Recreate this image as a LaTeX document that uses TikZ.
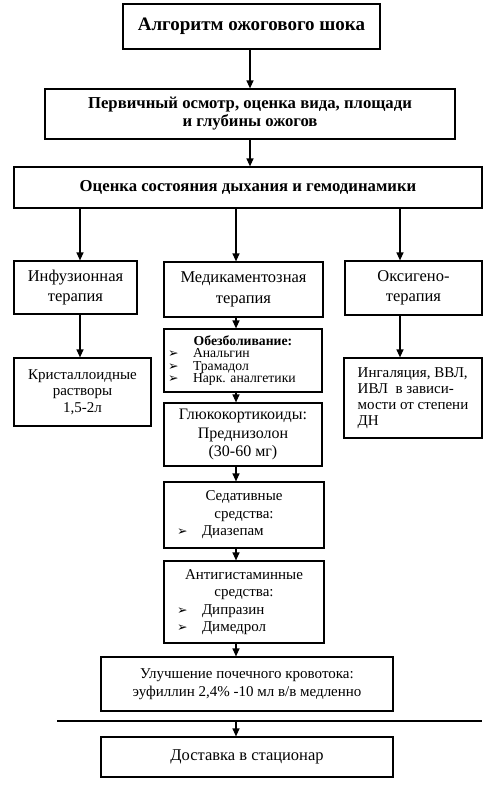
\documentclass[tikz,border=0pt]{standalone}
\usepackage{fontspec}
\setmainfont{Liberation Serif}
\newfontfamily\dejavu{DejaVu Sans}
\usetikzlibrary{arrows.meta}
\frenchspacing
\newcommand{\itm}[2]{\par\noindent\hspace*{#1pt}\makebox[25pt][l]{\dejavu\fontsize{12.5}{12}\selectfont ➢}#2}

\begin{document}
\begin{tikzpicture}[x=1pt,y=-1pt,
  box/.style={draw,line width=1.2pt,inner sep=2pt,align=center,font=\fontsize{15}{18}\selectfont},
  arr/.style={line width=1.2pt,-{Triangle[length=8pt,width=7pt]}}]
\useasboundingbox (0,0) rectangle (500,795);

\node[box,minimum width=257,minimum height=45,font=\fontsize{19}{21}\selectfont\bfseries] (title) at (251.5,26.5) {Алгоритм ожогового шока};
\node[box,minimum width=410,minimum height=50,font=\fontsize{16.7}{18}\selectfont\bfseries] (prim) at (250,114) {Первичный осмотр, оценка вида, площади\\ и глубины ожогов};
\node[box,minimum width=468,minimum height=41,font=\fontsize{16.7}{18}\selectfont\bfseries] (assess) at (248,187.5) {Оценка состояния дыхания и гемодинамики};
\draw[arr] (title.south -| 250,0) -- (prim.north -| 250,0);
\draw[arr] (prim.south -| 250,0) -- (assess.north -| 250,0);

% three columns
\node[box,minimum width=123,minimum height=53,font=\fontsize{16.5}{20.5}\selectfont] (inf) at (75.5,287.5) {Инфузионная\\ терапия};
\node[box,minimum width=159,minimum height=55,font=\fontsize{16.5}{20.5}\selectfont] (med) at (243.5,289.5) {Медикаментозная\\ терапия};
\node[box,minimum width=137,minimum height=54,font=\fontsize{16.5}{20.5}\selectfont] (oxy) at (413.5,288) {Оксигено-\\ терапия};
\draw[arr] (assess.south -| 80,0) -- (inf.north -| 80,0);
\draw[arr] (assess.south -| 236,0) -- (med.north -| 236,0);
\draw[arr] (assess.south -| 400,0) -- (oxy.north -| 400,0);

\node[box,minimum width=137,minimum height=68,font=\fontsize{15}{16.5}\selectfont] (cryst) at (82.5,392) {Кристаллоидные\\ растворы\\ 1,5-2л};
\node[box,align=left,minimum width=138,minimum height=80,font=\fontsize{15}{16}\selectfont] (inh) at (413,398) {Ингаляция, ВВЛ,\\ ИВЛ\ \ в зависи-\\ мости от степени\\ ДН};
\draw[arr] (inf.south -| 80,0) -- (cryst.north -| 80,0);
\draw[arr] (oxy.south -| 400,0) -- (inh.north -| 400,0);

% medication chain
\node[box,align=left,text width=154,minimum height=63,font=\fontsize{13.7}{12.5}\selectfont] (anal) at (243,360.5)
  {{\centering\textbf{Обезболивание:}\par}\itm{2}{Анальгин}\itm{2}{Трамадол}\itm{2}{Нарк. аналгетики}};
\node[box,minimum width=158,minimum height=63,font=\fontsize{16}{18.5}\selectfont] (gluc) at (243,434.5) {Глюкокортикоиды:\\ Преднизолон\\ (30-60 мг)};
\node[box,align=left,text width=156,minimum height=66,font=\fontsize{15}{17.5}\selectfont] (sed) at (244,515)
  {{\centering Седативные\\ средства:\par}\itm{11}{Диазепам}};
\node[box,align=left,text width=156,minimum height=82,font=\fontsize{15}{17.5}\selectfont] (anti) at (244,602)
  {{\centering Антигистаминные\\ средства:\par}\itm{11}{Дипразин}\itm{11}{Димедрол}};
\node[box,minimum width=292,minimum height=54] (kidney) at (247,684) {Улучшение почечного кровотока:\\ эуфиллин 2,4\% -10 мл в/в медленно};
\draw[arr] (med.south -| 236,0) -- (anal.north -| 236,0);
\draw[arr] (anal.south -| 236,0) -- (gluc.north -| 236,0);
\draw[arr] (gluc.south -| 236,0) -- (sed.north -| 236,0);
\draw[arr] (sed.south -| 236,0) -- (anti.north -| 236,0);
\draw[arr] (anti.south -| 236,0) -- (kidney.north -| 236,0);

% separator and transport
\coordinate (sepL) at (57,721);
\coordinate (sepR) at (482,721);
\coordinate (sepM) at (236,721);
\draw[line width=1.2pt] (sepL) -- (sepR);
\node[box,minimum width=292,minimum height=40,font=\fontsize{16.5}{18}\selectfont] (deliv) at (247,757) {Доставка в стационар};
\draw[arr] (sepM) -- (deliv.north -| sepM);
\end{tikzpicture}
\end{document}
